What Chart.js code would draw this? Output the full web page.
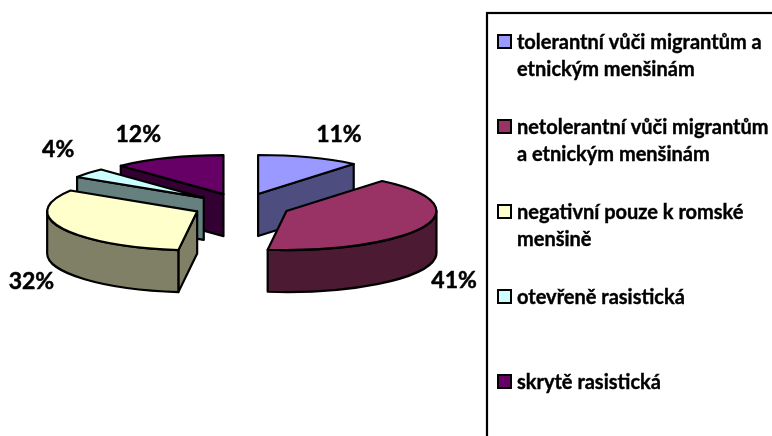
<!DOCTYPE html>
<html lang="cs">
<head>
<meta charset="utf-8">
<title>Postoje</title>
<script src="https://cdn.jsdelivr.net/npm/chart.js@4/dist/chart.umd.min.js"></script>
<style>
    html, body { margin: 0; padding: 0; background: #fff; overflow: hidden; }
    canvas { display: block; }
</style>
</head>
<body>
<canvas id="chart" width="772" height="436"></canvas>
<script>
const categories = [
    ['tolerantní vůči migrantům a', 'etnickým menšinám'],
    ['netolerantní vůči migrantům', 'a etnickým menšinám'],
    ['negativní pouze k romské', 'menšině'],
    ['otevřeně rasistická'],
    ['skrytě rasistická'],
];
const shares = [11, 41, 32, 4, 12];
const topColors = ['#9999ff', '#993366', '#ffffcc', '#ccffff', '#660066'];
const sideColors = ['#4d4d80', '#4d1a33', '#808066', '#668080', '#330033'];

const FONT = 'Lato, sans-serif';
const SQUASH = 0.26;    // naklonění koláče
const DEPTH = 42;       // výška boku
const EXPLODE = 49;     // odsunutí výsečí od středu
const LINE = 2.2;

function centerOf(arc) {
    const mid = (arc.startAngle + arc.endAngle) / 2;
    return {
        x: arc.x + Math.cos(mid) * EXPLODE,
        y: arc.y + Math.sin(mid) * EXPLODE * SQUASH,
    };
}

function rim(c, r, angle) {
    return { x: c.x + Math.cos(angle) * r, y: c.y + Math.sin(angle) * r * SQUASH };
}

function paintPath(ctx, fill) {
    ctx.fillStyle = fill;
    ctx.fill();
    ctx.stroke();
}

function drawCutFace(ctx, c, r, angle, fill) {
    const p = rim(c, r, angle);
    ctx.beginPath();
    ctx.moveTo(c.x, c.y);
    ctx.lineTo(p.x, p.y);
    ctx.lineTo(p.x, p.y + DEPTH);
    ctx.lineTo(c.x, c.y + DEPTH);
    ctx.closePath();
    paintPath(ctx, fill);
}

function drawRim(ctx, c, r, from, to, fill) {
    const a = Math.max(from, 0);
    const b = Math.min(to, Math.PI);
    if (b <= a) return;
    ctx.beginPath();
    ctx.ellipse(c.x, c.y, r, r * SQUASH, 0, a, b);
    ctx.ellipse(c.x, c.y + DEPTH, r, r * SQUASH, 0, b, a, true);
    ctx.closePath();
    paintPath(ctx, fill);
}

function drawSlice(ctx, arc, i) {
    const c = centerOf(arc);
    const r = arc.outerRadius;
    const { startAngle: a1, endAngle: a2 } = arc;

    ctx.save();
    ctx.lineWidth = LINE;
    ctx.lineJoin = 'round';
    ctx.strokeStyle = '#000';

    // boky, jen ty co jsou vidět
    if (Math.cos(a1) < 0) drawCutFace(ctx, c, r, a1, sideColors[i]);
    if (Math.cos(a2) > 0) drawCutFace(ctx, c, r, a2, sideColors[i]);
    drawRim(ctx, c, r, a1, a2, sideColors[i]);

    // horní plocha kreslí sám element
    ctx.save();
    ctx.translate(c.x, c.y);
    ctx.scale(1, SQUASH);
    ctx.translate(-arc.x, -arc.y);
    arc.draw(ctx);
    ctx.restore();

    ctx.beginPath();
    ctx.moveTo(c.x, c.y);
    ctx.ellipse(c.x, c.y, r, r * SQUASH, 0, a1, a2);
    ctx.closePath();
    ctx.stroke();
    ctx.restore();
}

function drawPercent(ctx, arc, value) {
    const c = centerOf(arc);
    const mid = (arc.startAngle + arc.endAngle) / 2;
    const p = rim(c, arc.outerRadius, mid);
    const front = Math.sin(mid) > 0;
    const side = Math.cos(mid) > 0 ? 1 : -1;
    const x = p.x + side * 30;
    const y = p.y + (front ? 54 : -23);
    ctx.fillText(value + '%', x, y);
    ctx.strokeText(value + '%', x, y);
}

const pie3d = {
    id: 'pie3d',
    beforeDatasetDraw(chart, args) {
        const ctx = chart.ctx;
        const arcs = args.meta.data;
        const order = arcs.map((_, i) => i).sort((a, b) => centerOf(arcs[a]).y - centerOf(arcs[b]).y);
        order.forEach(i => drawSlice(ctx, arcs[i], i));

        ctx.save();
        ctx.fillStyle = '#000';
        ctx.strokeStyle = '#000';
        ctx.lineWidth = 0.5;
        ctx.font = 'bold 23px ' + FONT;
        ctx.textAlign = 'center';
        ctx.textBaseline = 'middle';
        arcs.forEach((arc, i) => drawPercent(ctx, arc, shares[i]));
        ctx.restore();
        return false;
    },
};

const legendBox = {
    id: 'legendBox',
    afterDraw(chart) {
        const ctx = chart.ctx;
        ctx.save();
        ctx.strokeStyle = '#000';
        ctx.lineWidth = 2.2;
        ctx.strokeRect(487, 13, 320, 460);

        ctx.font = 'bold 20px ' + FONT;
        ctx.textAlign = 'left';
        ctx.textBaseline = 'alphabetic';
        categories.forEach((lines, i) => {
            const rowY = 42 + i * 85;
            ctx.fillStyle = topColors[i];
            ctx.lineWidth = 2;
            ctx.fillRect(498, rowY - 7, 13, 13);
            ctx.strokeRect(498, rowY - 7, 13, 13);
            ctx.fillStyle = '#000';
            ctx.lineWidth = 0.4;
            lines.forEach((line, n) => {
                ctx.fillText(line, 517, rowY + 7 + n * 27);
                ctx.strokeText(line, 517, rowY + 7 + n * 27);
            });
        });
        ctx.restore();
    },
};

new Chart(document.getElementById('chart'), {
    type: 'pie',
    data: {
        labels: categories,
        datasets: [{
            data: shares,
            backgroundColor: topColors,
            borderWidth: 0,
            clip: false,
        }],
    },
    options: {
        responsive: false,
        animation: false,
        radius: 150,
        layout: { padding: { left: 0, right: 289, top: 0, bottom: 24 } },
        plugins: {
            legend: { display: false },
            tooltip: { enabled: false },
        },
    },
    plugins: [pie3d, legendBox],
});
</script>
</body>
</html>
